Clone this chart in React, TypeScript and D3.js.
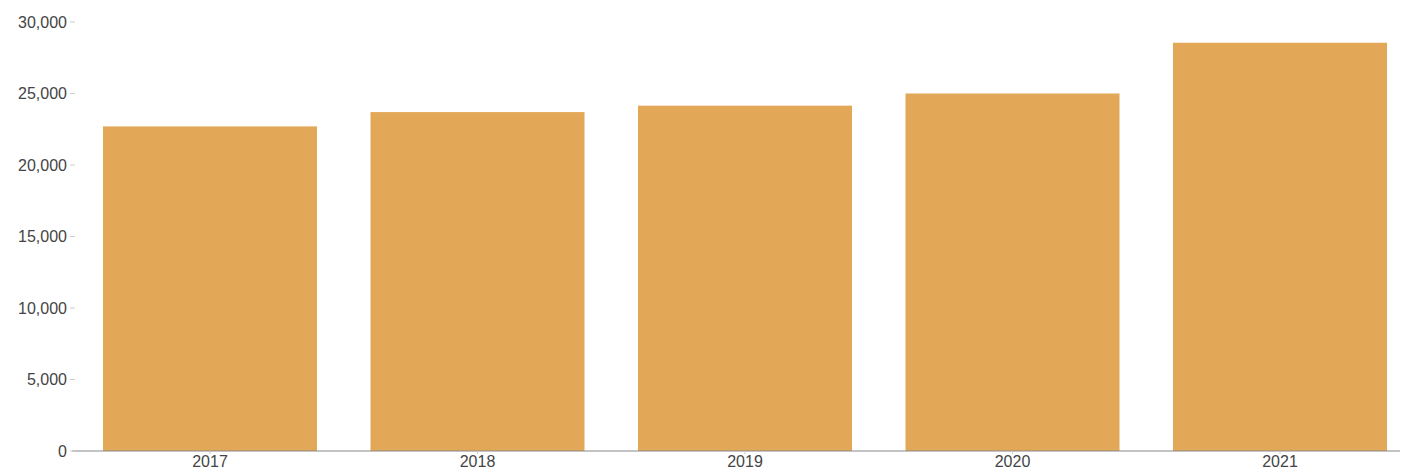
import React from "react";
import * as d3 from "d3";

const years = ["2017", "2018", "2019", "2020", "2021"];
const values = [22700, 23700, 24150, 25000, 28550];
const yTicks = [0, 5000, 10000, 15000, 20000, 25000, 30000];

const W = 1403;
const H = 470;

export default function App() {
  const x = d3.scaleBand<string>().domain(years).range([76.25, 1413.75]).paddingInner(0.2).paddingOuter(0.1);
  const y = d3.scaleLinear().domain([0, 30000]).range([451, 22]);
  const fmt = d3.format(",");
  return (
    <svg width={W} height={H} style={{ position: "absolute", left: 0, top: 0, background: "#fff" }} fontFamily="'Liberation Sans', Arial, sans-serif">
      {years.map((yr, i) => (
        <rect key={yr} x={x(yr)} y={y(values[i])} width={x.bandwidth()} height={y(0) - y(values[i])} fill="#E2A857" />
      ))}
      <line x1={72} x2={1400} y1={y(0)} y2={y(0)} stroke="#888" strokeWidth={1} />
      {yTicks.map((t) => (
        <g key={t} transform={`translate(0,${y(t)})`}>
          <line x1={70} x2={75} stroke="#ccc" />
          <text x={67} dy="0.35em" textAnchor="end" fontSize={16} fill="#444">{fmt(t)}</text>
        </g>
      ))}
      {years.map((yr) => (
        <g key={yr} transform={`translate(${(x(yr) as number) + x.bandwidth() / 2},${y(0)})`}>
          <line y1={0} y2={3} stroke="#ccc" />
          <text y={16} textAnchor="middle" fontSize={16} fill="#444">{yr}</text>
        </g>
      ))}
    </svg>
  );
}
